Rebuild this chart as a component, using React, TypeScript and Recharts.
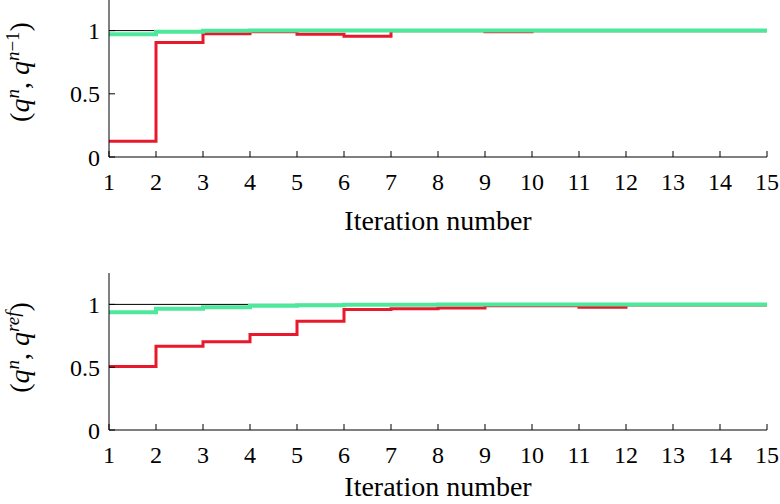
import React from 'react';
import { LineChart, Line, XAxis, YAxis, ReferenceLine, Label } from 'recharts';

const iterations = [1, 2, 3, 4, 5, 6, 7, 8, 9, 10, 11, 12, 13, 14, 15];
const xTicks = [1, 2, 3, 4, 5, 6, 7, 8, 9, 10, 11, 12, 13, 14, 15];
const yTicks = [0, 0.5, 1];
const unityLevel = 1;

// (q^n, q^{n-1})
const topRed = [0.125, 0.905, 0.976, 0.99, 0.972, 0.955, 0.998, 0.998, 0.99, 0.998, 0.998, 0.998, 0.998, 0.998, 0.998];
const topGreen = [0.972, 0.99, 0.999, 1.0, 1.0, 1.0, 1.0, 1.0, 1.0, 1.0, 1.0, 1.0, 1.0, 1.0, 1.0];

// (q^n, q^{ref})
const bottomRed = [0.506, 0.667, 0.703, 0.76, 0.865, 0.96, 0.965, 0.972, 0.99, 0.99, 0.978, 0.995, 0.995, 0.995, 0.995];
const bottomGreen = [0.938, 0.965, 0.978, 0.99, 0.994, 0.997, 0.998, 0.999, 1.0, 1.0, 1.0, 1.0, 1.0, 1.0, 1.0];

const topData = iterations.map((n, i) => ({ n, red: topRed[i], green: topGreen[i] }));
const bottomData = iterations.map((n, i) => ({ n, red: bottomRed[i], green: bottomGreen[i] }));

const FONT = "'Liberation Serif', 'DejaVu Serif', serif";
const RED = '#e8192c';
const GREEN = '#4de89c';

type SupPart = { t: string; it: boolean };

const makeXLabel = (dy: number) => (props: any) => {
  const vb = props.viewBox || {};
  return (
    <text x={vb.x + vb.width / 2} y={vb.y + dy} textAnchor="middle" style={{ fontFamily: FONT, fontSize: 28 }} fill="#000">
      Iteration number
    </text>
  );
};

const makeYLabel = (sup: SupPart[], shift: number) => (props: any) => {
  const vb = props.viewBox || {};
  const cx = 29;
  const cy = vb.y + vb.height / 2 + shift;
  return (
    <text transform={`translate(${cx},${cy}) rotate(-90)`} textAnchor="middle" style={{ fontFamily: FONT, fontSize: 28 }} fill="#000">
      <tspan>(</tspan>
      <tspan fontStyle="italic">q</tspan>
      <tspan fontStyle="italic" style={{ fontSize: 19 }} dy={-10}>n</tspan>
      <tspan dy={10}>,  </tspan>
      <tspan fontStyle="italic">q</tspan>
      {sup.map((p, i) => (
        <tspan key={i} fontStyle={p.it ? 'italic' : 'normal'} style={{ fontSize: 19 }} dy={i === 0 ? -10 : 0}>{p.t}</tspan>
      ))}
      <tspan dy={10}>)</tspan>
    </text>
  );
};

const axisStroke = { stroke: '#000', strokeWidth: 1 };
const tickStyle = { fill: '#000', fontSize: 24, fontFamily: FONT, style: { fontFamily: FONT } };

function Panel(props: {
  data: any[];
  height: number;
  marginTop: number;
  marginBottom: number;
  xAxisHeight: number;
  xTickMargin: number;
  labelDy: number;
  sup: SupPart[];
  yShift: number;
}) {
  const { data, height, marginTop, marginBottom, xAxisHeight, xTickMargin, labelDy, sup, yShift } = props;
  return (
    <LineChart width={780} height={height} data={data} margin={{ top: marginTop, right: 13, left: 0, bottom: marginBottom }} style={{ fontFamily: FONT }}>
      <XAxis
        xAxisId="b"
        dataKey="n"
        type="number"
        domain={[1, 15]}
        ticks={xTicks}
        interval={0}
        allowDataOverflow
        height={xAxisHeight}
        tickSize={-6}
        tickMargin={xTickMargin}
        axisLine={axisStroke}
        tickLine={axisStroke}
        tick={tickStyle}
      >
        <Label content={makeXLabel(labelDy)} />
      </XAxis>
      <XAxis
        xAxisId="t"
        orientation="top"
        dataKey="n"
        type="number"
        domain={[1, 15]}
        ticks={xTicks}
        interval={0}
        allowDataOverflow
        height={0}
        tickSize={-6}
        axisLine={axisStroke}
        tickLine={axisStroke}
        tick={false}
      />
      <YAxis
        yAxisId="l"
        type="number"
        domain={[0, 1.25]}
        ticks={yTicks}
        interval={0}
        allowDataOverflow
        width={109}
        tickSize={-6}
        tickMargin={15}
        axisLine={axisStroke}
        tickLine={axisStroke}
        tick={tickStyle}
      >
        <Label content={makeYLabel(sup, yShift)} />
      </YAxis>
      <YAxis
        yAxisId="r"
        orientation="right"
        type="number"
        domain={[0, 1.25]}
        ticks={yTicks}
        interval={0}
        allowDataOverflow
        width={0}
        tickSize={-6}
        axisLine={axisStroke}
        tickLine={axisStroke}
        tick={false}
      />
      <ReferenceLine xAxisId="b" yAxisId="l" y={unityLevel} stroke="#000" strokeWidth={1} />
      <Line xAxisId="b" yAxisId="l" type="stepAfter" dataKey="red" stroke={RED} strokeWidth={3} dot={false} isAnimationActive={false} />
      <Line xAxisId="b" yAxisId="l" type="stepAfter" dataKey="green" stroke={GREEN} strokeWidth={4} dot={false} isAnimationActive={false} />
    </LineChart>
  );
}

export default function App() {
  return (
    <div style={{ position: 'absolute', left: 0, top: 0, width: 780, height: 504, background: '#fff', overflow: 'hidden', fontFamily: FONT }}>
      <div style={{ position: 'absolute', left: 0, top: -4 }}>
        <Panel
          data={topData}
          height={250}
          marginTop={3}
          marginBottom={9}
          xAxisHeight={80}
          xTickMargin={22}
          labelDy={73}
          sup={[{ t: 'n', it: true }, { t: '−1', it: false }]}
          yShift={-6}
        />
      </div>
      <div style={{ position: 'absolute', left: 0, top: 260 }}>
        <Panel
          data={bottomData}
          height={244}
          marginTop={13}
          marginBottom={0}
          xAxisHeight={74}
          xTickMargin={22}
          labelDy={66}
          sup={[{ t: 'ref', it: true }]}
          yShift={-4}
        />
      </div>
    </div>
  );
}
